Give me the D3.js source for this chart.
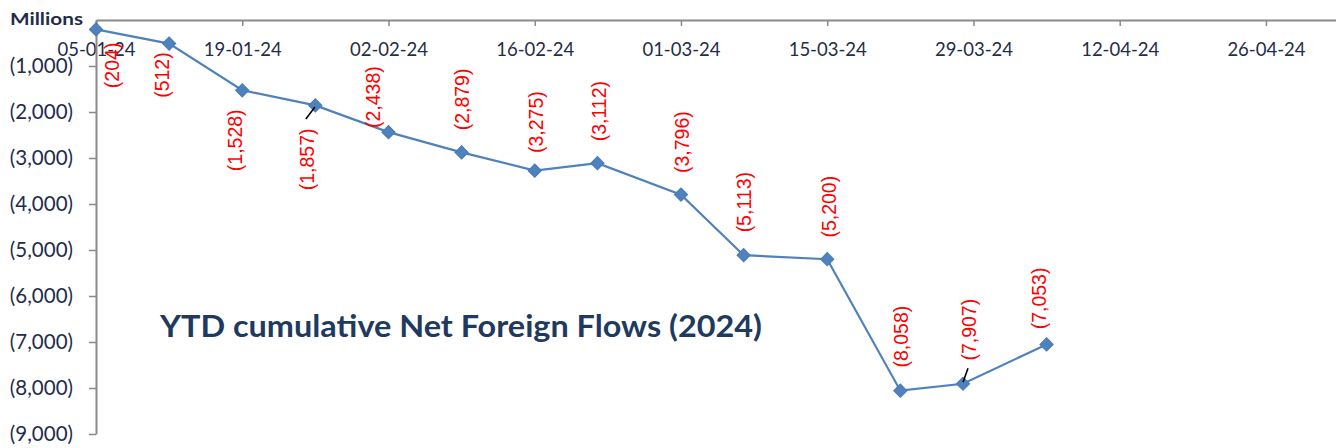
<!DOCTYPE html>
<html>
<head>
<meta charset="utf-8">
<script src="https://cdn.jsdelivr.net/npm/d3@7"></script>
<style>
  html, body { margin: 0; padding: 0; background: #ffffff; }
  svg { display: block; }
</style>
</head>
<body>
<svg id="chart" width="1336" height="448"></svg>
<script>
// ---- data ----
const dates = ["2024-01-05","2024-01-12","2024-01-19","2024-01-26","2024-02-02","2024-02-09","2024-02-16","2024-02-22","2024-03-01","2024-03-07","2024-03-15","2024-03-22","2024-03-28","2024-04-05"];
const values = [-204,-512,-1528,-1857,-2438,-2879,-3275,-3112,-3796,-5113,-5200,-8058,-7907,-7053];
const xTickDates = ["2024-01-05","2024-01-19","2024-02-02","2024-02-16","2024-03-01","2024-03-15","2024-03-29","2024-04-12","2024-04-26"];
const yTickValues = [-1000,-2000,-3000,-4000,-5000,-6000,-7000,-8000,-9000];
const yUnit = "Millions";
const titleText = "YTD cumulative Net Foreign Flows (2024)";

// ---- layout (label offsets from each point, px) ----
const labelOffsets = [[16,36],[-6.5,31.5],[-7,50],[-8,54],[-15,-35],[1,-53],[1,-48.5],[2,-52],[1.5,-52.5],[1,-53],[1.5,-52.5],[1,-54],[6,-54],[-7,-46]];
const leaderLines = {3: [[-9.5,13.5],[-0.5,1.5]], 12: [[0,-1.5],[5,-15.5]]};

const parse = d3.utcParse("%Y-%m-%d");
const fmtDate = d3.utcFormat("%d-%m-%y");
const fmtNum = v => "(" + d3.format(",")(Math.abs(v)) + ")";

const svg = d3.select("#chart");
const x0 = 96, yTop = 20, yBottom = 434;
const pxPerDay = 10.446;
const xMax = d3.utcDay.offset(parse("2024-01-05"), 119);
const x = d3.scaleUtc().domain([parse("2024-01-05"), xMax]).range([x0, x0 + 119 * pxPerDay]);
const y = d3.scaleLinear().domain([0, -9000]).range([yTop, yBottom]);

const axisColor = "#8a8a8a";
const textColor = "#1f2d4a";

// x axis (on top, at value 0)
const xAxis = d3.axisBottom(x)
  .tickValues(xTickDates.map(parse))
  .tickFormat(fmtDate)
  .tickSize(6).tickSizeOuter(0).tickPadding(17);
const gx = svg.append("g").attr("transform", `translate(0,${y(0)})`).call(xAxis);
gx.select(".domain").attr("stroke", axisColor).attr("stroke-width", 2);
gx.selectAll(".tick line").attr("stroke", axisColor).attr("stroke-width", 1.5);
gx.selectAll(".tick text")
  .attr("fill", textColor)
  .style("font-family", "Lato, 'Open Sans', sans-serif")
  .style("font-size", "18.5px");

// y axis
const yAxis = d3.axisLeft(y)
  .tickValues(yTickValues)
  .tickFormat(fmtNum)
  .tickSize(7).tickSizeOuter(0).tickPadding(16);
const gy = svg.append("g").attr("transform", `translate(${x0},0)`).call(yAxis);
gy.select(".domain").attr("stroke", axisColor).attr("stroke-width", 2);
gy.selectAll(".tick line").attr("stroke", axisColor).attr("stroke-width", 1.5);
gy.selectAll(".tick text")
  .attr("fill", textColor)
  .style("font-family", "Lato, 'Open Sans', sans-serif")
  .style("font-size", "20.5px");

// unit label
svg.append("text")
  .attr("x", 10).attr("y", 25)
  .attr("fill", textColor)
  .style("font-family", "Lato, 'Open Sans', sans-serif")
  .style("font-weight", "bold")
  .style("font-size", "17px")
  .attr("textLength", 73).attr("lengthAdjust", "spacingAndGlyphs")
  .text(yUnit);

// data
const pts = dates.map((d, i) => ({date: parse(d), value: values[i], i}));

const line = d3.line().x(d => x(d.date)).y(d => y(d.value));
svg.append("path")
  .datum(pts)
  .attr("fill", "none")
  .attr("stroke", "#4f81bd")
  .attr("stroke-width", 2.2)
  .attr("d", line);

const sym = d3.symbol().type(d3.symbolSquare).size(88);
svg.selectAll("path.marker")
  .data(pts).enter().append("path")
  .attr("class", "marker")
  .attr("d", sym)
  .attr("fill", "#4f81bd")
  .attr("stroke", "#4a7ab5")
  .attr("stroke-width", 1)
  .attr("transform", d => `translate(${x(d.date)},${y(d.value)}) rotate(45)`);

// leader lines
Object.entries(leaderLines).forEach(([k, seg]) => {
  const d = pts[+k];
  const px = x(d.date), py = y(d.value);
  svg.append("line")
    .attr("x1", px + seg[0][0]).attr("y1", py + seg[0][1])
    .attr("x2", px + seg[1][0]).attr("y2", py + seg[1][1])
    .attr("stroke", "#000").attr("stroke-width", 1.6);
});

// data labels
svg.selectAll("text.dlabel")
  .data(pts).enter().append("text")
  .attr("class", "dlabel")
  .attr("transform", d => {
    const o = labelOffsets[d.i];
    return `translate(${x(d.date) + o[0]},${y(d.value) + o[1]}) rotate(-90)`;
  })
  .attr("text-anchor", "middle")
  .attr("dy", "0.35em")
  .attr("fill", "#ff0000")
  .style("font-family", "'Liberation Sans', Arial, sans-serif")
  .style("font-size", "19.5px")
  .text(d => fmtNum(d.value));

// title
svg.append("text")
  .attr("x", 160).attr("y", 337)
  .attr("fill", "#1f3a60")
  .style("font-family", "Lato, 'Open Sans', sans-serif")
  .style("font-weight", "bold")
  .style("font-size", "31px")
  .attr("textLength", 602).attr("lengthAdjust", "spacingAndGlyphs")
  .text(titleText);
</script>
</body>
</html>
